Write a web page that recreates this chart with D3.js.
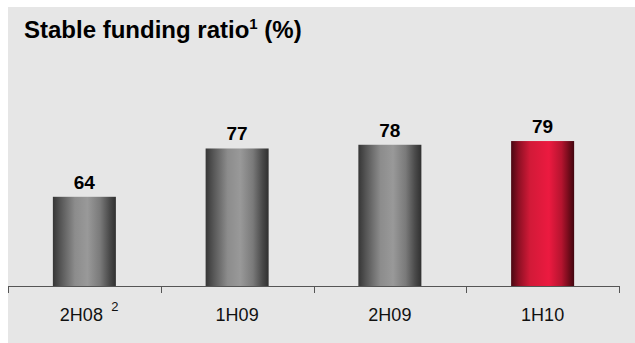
<!DOCTYPE html>
<html>
<head>
<meta charset="utf-8">
<script src="https://cdn.jsdelivr.net/npm/d3@7/dist/d3.min.js"></script>
<style>
  html, body { margin: 0; padding: 0; background: #ffffff; }
  svg { display: block; }
  text { font-family: Arial, "Liberation Sans", sans-serif; }
</style>
</head>
<body>
<svg id="chart" width="635" height="343"></svg>
<script>
// Stable funding ratio by half-year period (%)
const categories = ["2H08", "1H09", "2H09", "1H10"];
const values = [64, 77, 78, 79];
const footnoteMarks = ["2", "", "", ""];
const highlighted = [false, false, false, true];
const titleText = "Stable funding ratio";
const titleNote = "1";
const titleUnit = " (%)";

const W = 635, H = 343;
const svg = d3.select("#chart");

// panel background
svg.append("rect")
  .attr("x", 8).attr("y", 7)
  .attr("width", W - 8).attr("height", H - 7)
  .attr("fill", "#e6e6e6");

// horizontal cylinder-style gradients
const defs = svg.append("defs");
const grayGrad = defs.append("linearGradient").attr("id", "gradGray")
  .attr("x1", "0%").attr("x2", "100%").attr("y1", "0%").attr("y2", "0%");
[[0, "#363636"], [0.12, "#555555"], [0.35, "#8c8c8c"], [0.55, "#999999"],
 [0.75, "#7a7a7a"], [0.9, "#4a4a4a"], [1, "#303030"]]
  .forEach(([o, c]) => grayGrad.append("stop").attr("offset", o).attr("stop-color", c));
const redGrad = defs.append("linearGradient").attr("id", "gradRed")
  .attr("x1", "0%").attr("x2", "100%").attr("y1", "0%").attr("y2", "0%");
[[0, "#4a0812"], [0.12, "#8e1024"], [0.3, "#d21a38"], [0.6, "#ec1a40"],
 [0.8, "#b5142f"], [0.93, "#6a0a18"], [1, "#420610"]]
  .forEach(([o, c]) => redGrad.append("stop").attr("offset", o).attr("stop-color", c));

// scales
const x = d3.scaleBand()
  .domain(categories)
  .range([8, 619])
  .paddingInner(0.5875)
  .paddingOuter(0.29375);
const y = d3.scaleLinear().domain([40, 100]).range([286, 63]);

// bars
svg.append("g").selectAll("rect")
  .data(categories)
  .join("rect")
  .attr("x", d => x(d))
  .attr("width", x.bandwidth())
  .attr("y", (d, i) => y(values[i]))
  .attr("height", (d, i) => y(40) - y(values[i]))
  .attr("fill", (d, i) => highlighted[i] ? "url(#gradRed)" : "url(#gradGray)");

// value labels
svg.append("g").selectAll("text")
  .data(categories)
  .join("text")
  .attr("x", d => x(d) + x.bandwidth() / 2)
  .attr("y", (d, i) => y(values[i]) - 8)
  .attr("text-anchor", "middle")
  .attr("font-size", 19)
  .attr("font-weight", "bold")
  .attr("fill", "#000")
  .text((d, i) => values[i]);

// axis baseline
const axis = d3.axisBottom(x).tickSize(0).tickPadding(35);
const gAxis = svg.append("g").attr("transform", `translate(0,${y(40)})`).call(axis);
gAxis.select(".domain").attr("stroke", "#555").attr("stroke-width", 1)
  .attr("d", "M8,0.5H619");
gAxis.selectAll(".tick text")
  .attr("font-size", 18)
  .attr("fill", "#111")
  .attr("dy", "0")
  .attr("font-family", "Arial, 'Liberation Sans', sans-serif")
  .attr("dx", d => footnoteMarks[categories.indexOf(d)] ? -3 : 0);

// footnote marks after category labels
gAxis.selectAll(".tick").each(function(d) {
  const mark = footnoteMarks[categories.indexOf(d)];
  if (!mark) return;
  const t = d3.select(this).select("text");
  const len = t.node().getComputedTextLength();
  d3.select(this).append("text")
    .attr("x", len / 2 + 9)
    .attr("y", 25)
    .attr("font-size", 13)
    .attr("fill", "#111")
    .attr("font-family", "Arial, 'Liberation Sans', sans-serif")
    .text(mark);
});

// boundary tick marks between categories
const step = x.step();
const bounds = categories.map(c => x(c) - (step - x.bandwidth()) / 2).concat([619]);
gAxis.append("g").selectAll("line")
  .data(bounds)
  .join("line")
  .attr("x1", d => Math.round(d) + 0.5)
  .attr("x2", d => Math.round(d) + 0.5)
  .attr("y1", 0).attr("y2", 7)
  .attr("stroke", "#555").attr("stroke-width", 1);

// title
const title = svg.append("text")
  .attr("x", 24).attr("y", 38)
  .attr("font-size", 24)
  .attr("font-weight", "bold")
  .attr("fill", "#000");
title.append("tspan").text(titleText);
title.append("tspan").attr("font-size", 15).attr("dy", -9).text(titleNote);
title.append("tspan").attr("dy", 9).text(titleUnit);
</script>
</body>
</html>
